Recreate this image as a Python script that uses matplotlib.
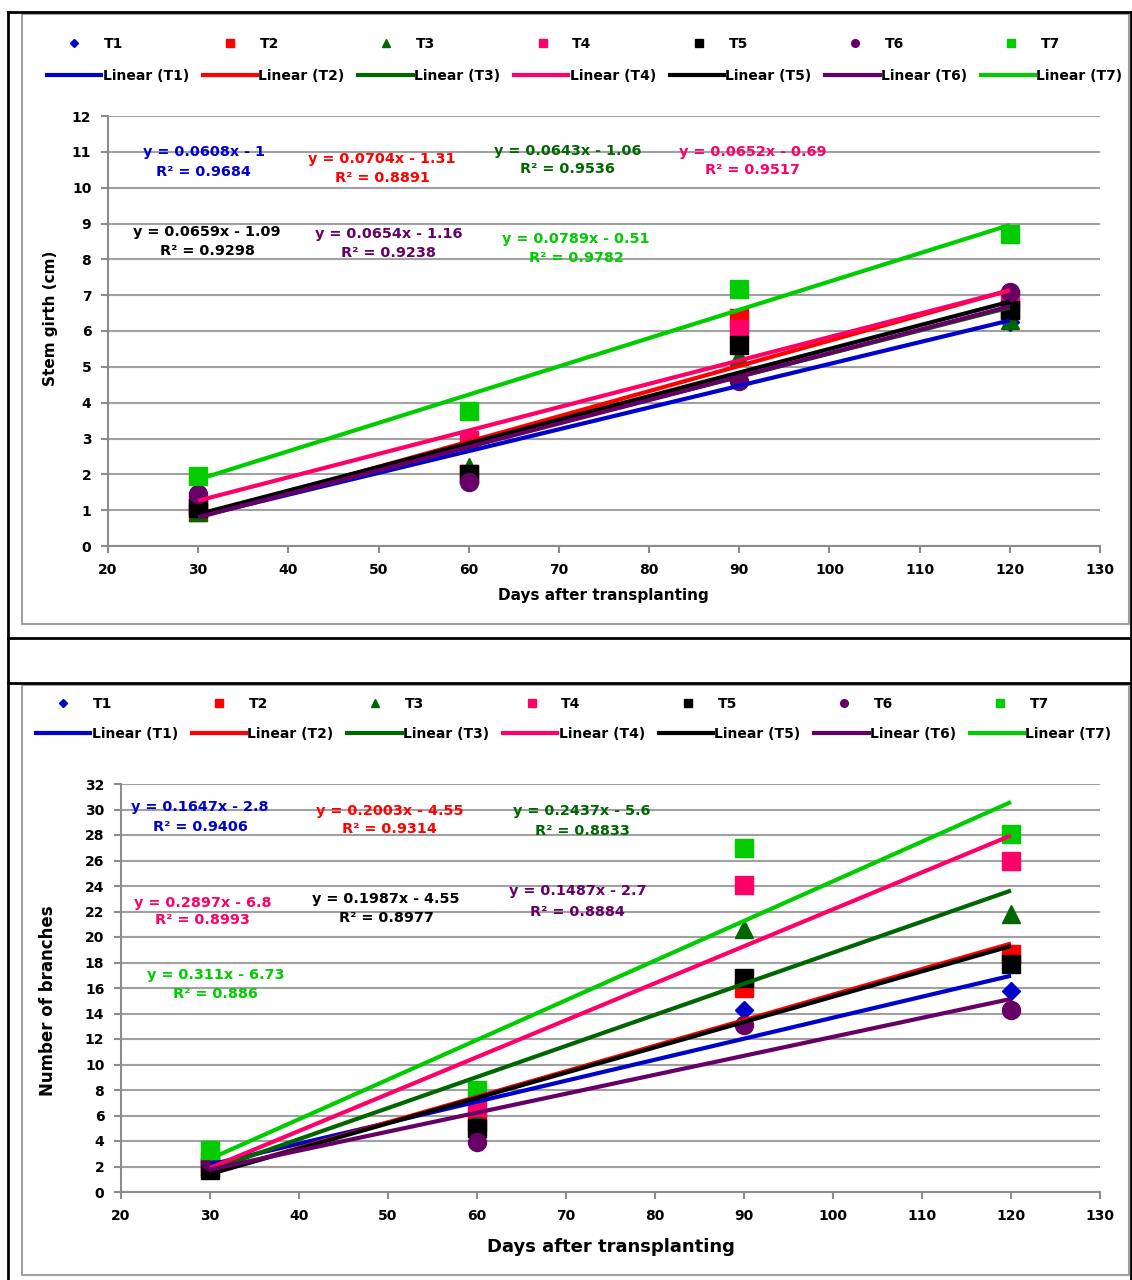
import numpy as np
import matplotlib
matplotlib.use('Agg')
import matplotlib.pyplot as plt
from matplotlib.lines import Line2D
from matplotlib.patches import Rectangle

W, H = 1132, 1280
plt.rcParams['font.family'] = ['DejaVu Sans']
plt.rcParams['font.weight'] = 'bold'

# ---- data ----
days = [30, 60, 90, 120]
names = ['T1', 'T2', 'T3', 'T4', 'T5', 'T6', 'T7']
colors = ['#0000CC', '#FF0000', '#006600', '#FF0066', '#000000', '#660066', '#00CC00']
markers = ['D', 's', '^', 's', 's', 'o', 's']

# stem girth (cm)
girth = [
    [0.95, 2.05, 4.60, 6.25],
    [0.95, 2.00, 6.35, 6.60],
    [0.95, 2.20, 5.30, 6.30],
    [1.15, 2.95, 6.05, 6.90],
    [1.05, 2.00, 5.60, 6.60],
    [1.45, 1.80, 4.60, 7.10],
    [1.95, 3.78, 7.18, 8.70],
]
girth_slope = [0.0608, 0.0704, 0.0643, 0.0652, 0.0659, 0.0654, 0.0789]
girth_icpt = [-1.0, -1.31, -1.06, -0.69, -1.09, -1.16, -0.51]
girth_eq = ['y = 0.0608x - 1', 'y = 0.0704x - 1.31', 'y = 0.0643x - 1.06',
            'y = 0.0652x - 0.69', 'y = 0.0659x - 1.09', 'y = 0.0654x - 1.16',
            'y = 0.0789x - 0.51']
girth_r2 = ['R² = 0.9684', 'R² = 0.8891', 'R² = 0.9536', 'R² = 0.9517',
            'R² = 0.9298', 'R² = 0.9238', 'R² = 0.9782']
# label centres (x, y of equation line, y of R² line)
girth_lab = [(30.6, 11.0, 10.45), (50.4, 10.81, 10.28), (71.0, 11.03, 10.53),
             (91.5, 11.0, 10.5), (31.0, 8.77, 8.24), (51.1, 8.72, 8.18),
             (71.9, 8.58, 8.04)]

# number of branches
branches = [
    [2.0, 6.1, 14.3, 15.8],
    [2.0, 5.5, 16.0, 18.7],
    [2.0, 5.8, 20.6, 21.8],
    [2.4, 6.7, 24.1, 26.0],
    [1.7, 5.0, 16.8, 17.9],
    [2.4, 3.95, 13.1, 14.3],
    [3.3, 8.0, 27.0, 28.1],
]
br_slope = [0.1647, 0.2003, 0.2437, 0.2897, 0.1987, 0.1487, 0.311]
br_icpt = [-2.8, -4.55, -5.6, -6.8, -4.55, -2.7, -6.73]
br_eq = ['y = 0.1647x - 2.8', 'y = 0.2003x - 4.55', 'y = 0.2437x - 5.6',
         'y = 0.2897x - 6.8', 'y = 0.1987x - 4.55', 'y = 0.1487x - 2.7',
         'y = 0.311x - 6.73']
br_r2 = ['R² = 0.9406', 'R² = 0.9314', 'R² = 0.8833', 'R² = 0.8993',
         'R² = 0.8977', 'R² = 0.8884', 'R² = 0.886']
br_lab = [(28.9, 30.2, 28.6), (50.2, 29.9, 28.5), (71.8, 29.9, 28.3),
          (29.2, 22.7, 21.3), (49.8, 23.0, 21.5), (71.3, 23.6, 22.0),
          (30.6, 17.0, 15.5)]

fig = plt.figure(figsize=(W / 100, H / 100), dpi=100)


def fx(px):
    return px / W


def fy(py):
    return 1 - py / H


# outer table frame (black) and chart boxes (gray)
for (x0, y0, x1, y1) in [(8, 12, 1132, 12), (8, 12, 8, 1280), (8, 638, 1132, 638),
                         (8, 683, 1132, 683), (1131, 12, 1131, 1280)]:
    fig.add_artist(Line2D([fx(x0), fx(x1)], [fy(y0), fy(y1)], color='black', lw=2))
for (x0, y0, x1, y1) in [(22, 14, 1129, 624), (22, 685, 1129, 1275)]:
    fig.add_artist(Rectangle((fx(x0), fy(y1)), fx(x1) - fx(x0), fy(y0) - fy(y1),
                             fill=False, edgecolor='#a0a0a0', lw=1.5))


def panel(rect, data, slope, icpt, eqs, r2s, labs, ymax, ystep, ylabel,
          xl_size, yl_size, ylab_pos, xlab_pos, leg_x, leg_y1, leg_y2):
    ax = fig.add_axes(rect)
    for i in range(7):
        ms = 9.5 if markers[i] == 'D' else 13
        ax.plot(days, data[i], ls='none', marker=markers[i], color=colors[i],
                markersize=ms, zorder=3, clip_on=False)
    xs = np.array([30, 120])
    for i in range(7):
        ax.plot(xs, slope[i] * xs + icpt[i], color=colors[i], lw=3,
                zorder=4, solid_capstyle='butt')
    for i in range(7):
        x, y1, y2 = labs[i]
        ax.text(x, y1, eqs[i], color=colors[i], ha='center', va='center',
                fontsize=10.4, fontweight='bold', zorder=5)
        ax.text(x, y2, r2s[i], color=colors[i], ha='center', va='center',
                fontsize=10.4, fontweight='bold', zorder=5)
    ax.set_xlim(20, 130)
    ax.set_ylim(0, ymax)
    ax.set_xticks(range(20, 131, 10))
    ax.set_yticks(np.arange(0, ymax + 1, ystep))
    ax.yaxis.grid(True, color='#a0a0a0', lw=1.5)
    ax.set_axisbelow(True)
    for s in ['top', 'right']:
        ax.spines[s].set_visible(False)
    for s in ['left', 'bottom']:
        ax.spines[s].set_color('#8c8c8c')
        ax.spines[s].set_linewidth(1.5)
    ax.tick_params(axis='both', colors='#8c8c8c', labelcolor='black',
                   labelsize=10, width=1.5, length=5, pad=7)
    for t in ax.get_xticklabels() + ax.get_yticklabels():
        t.set_fontweight('bold')
    ax.set_xlabel('Days after transplanting', fontsize=xl_size, fontweight='bold')
    ax.set_ylabel(ylabel, fontsize=yl_size, fontweight='bold')
    ax.xaxis.set_label_coords(*xlab_pos)
    ax.yaxis.set_label_coords(*ylab_pos)
    ax.xaxis.label.set_va('center')
    ax.yaxis.label.set_va('center')

    h1 = [Line2D([], [], ls='none', marker=markers[i], color=colors[i],
                 markersize=4 if markers[i] == 'D' else 5.5) for i in range(7)]
    h2 = [Line2D([], [], color=colors[i], lw=3) for i in range(7)]
    fig.legend(h1, names, loc='center left', bbox_to_anchor=(fx(leg_x), fy(leg_y1)),
               ncol=7, frameon=False, handlelength=3.9, handletextpad=0.2,
               columnspacing=5.75, borderpad=0, borderaxespad=0,
               prop=dict(weight='bold', size=10))
    fig.legend(h2, ['Linear (%s)' % n for n in names], loc='center left',
               bbox_to_anchor=(fx(leg_x), fy(leg_y2)), ncol=7, frameon=False,
               handlelength=3.9, handletextpad=0.1, columnspacing=1.0,
               borderpad=0, borderaxespad=0, prop=dict(weight='bold', size=10))
    return ax


panel([fx(108), fy(546), (1100 - 108) / W, (546 - 116) / H],
      girth, girth_slope, girth_icpt, girth_eq, girth_r2, girth_lab,
      12, 1, 'Stem girth (cm)', 11, 11, (-0.058, 0.53), (0.499, -0.116),
      47, 44, 76)

panel([fx(121), fy(1192), (1100 - 121) / W, (1192 - 784) / H],
      branches, br_slope, br_icpt, br_eq, br_r2, br_lab,
      32, 2, 'Number of branches', 13, 12, (-0.0746, 0.47), (0.5, -0.135),
      36, 704, 734)

fig.savefig('out.png', dpi=100)
